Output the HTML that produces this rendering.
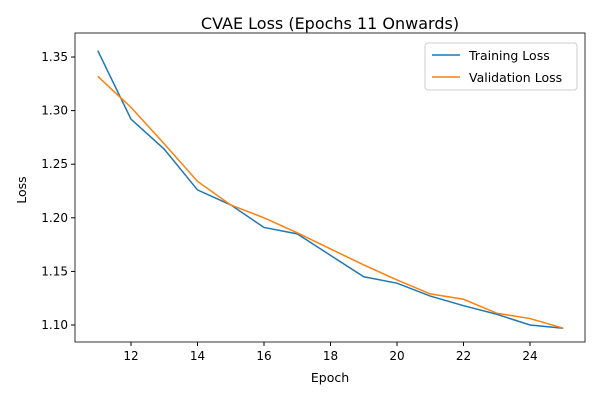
<!DOCTYPE html>
<html><head><meta charset="utf-8"><style>
body{margin:0;background:#fff;}
svg{display:block;font-family:"DejaVu Sans","Liberation Sans",sans-serif;}
</style></head><body>
<svg id="chart" width="600" height="400">
<rect width="600" height="400" fill="#fff"/>
<text x="330" y="29" text-anchor="middle" font-size="16">CVAE Loss (Epochs 11 Onwards)</text>
<g id="axes"></g>
<text x="330" y="382" text-anchor="middle" font-size="12.5">Epoch</text>
<text x="26" y="190" text-anchor="middle" font-size="12.5" transform="rotate(-90 26 190)">Loss</text>
<g>
<rect x="425" y="43" width="152" height="47" fill="#fff" stroke="#ccc" rx="3"/>
<line x1="432" y1="55" x2="460" y2="55" stroke="#1f77b4" stroke-width="1.5"/>
<text x="469" y="60" font-size="12.5">Training Loss</text>
<line x1="432" y1="77" x2="460" y2="77" stroke="#ff7f0e" stroke-width="1.5"/>
<text x="469" y="82" font-size="12.5">Validation Loss</text>
</g>
</svg>
<script>
const epochs=[11,12,13,14,15,16,17,18,19,20,21,22,23,24,25];
const trainLoss=[1.356,1.292,1.264,1.226,1.212,1.191,1.185,1.165,1.145,1.139,1.127,1.118,1.110,1.100,1.097];
const valLoss=[1.332,1.303,1.269,1.234,1.212,1.200,1.186,1.171,1.156,1.142,1.129,1.124,1.111,1.106,1.097];
const xTicks=[12,14,16,18,20,22,24];
const yTicks=[1.10,1.15,1.20,1.25,1.30,1.35];
const L=75,R=585,T=33,B=342;
const xs=v=>131+(v-12)*33.25;
const ys=v=>325-(v-1.10)/0.05*53.6;
const NS="http://www.w3.org/2000/svg";
const svg=document.getElementById('chart');
const ax=document.getElementById('axes');
function mk(tag,attrs,parent){const e=document.createElementNS(NS,tag);for(const k in attrs)e.setAttribute(k,attrs[k]);(parent||ax).appendChild(e);return e;}
const frame=mk('rect',{x:L,y:T,width:R-L,height:B-T,fill:'none',stroke:'#000','stroke-width':0.8});


xTicks.forEach(t=>{
 const x=xs(t);
 mk('line',{x1:x,y1:B,x2:x,y2:B+4,stroke:'#000'});
 const tx=mk('text',{x:x,y:B+18,'text-anchor':'middle','font-size':12});
 tx.textContent=t;
 
 
});
yTicks.forEach(t=>{
 const y=ys(t);
 mk('line',{x1:L-4,y1:y,x2:L,y2:y,stroke:'#000'});
 const tx=mk('text',{x:L-7,y:y+4,'text-anchor':'end','font-size':12});
 tx.textContent=t.toFixed(2);
 
 
});
function line(vals,color,name){
 const p=mk('polyline',{points:epochs.map((e,i)=>xs(e)+','+ys(vals[i])).join(' '),fill:'none',stroke:color,'stroke-width':1.5},svg);
 
 
}
line(trainLoss,'#1f77b4','training-loss-line');
line(valLoss,'#ff7f0e','validation-loss-line');
</script>
</body></html>
